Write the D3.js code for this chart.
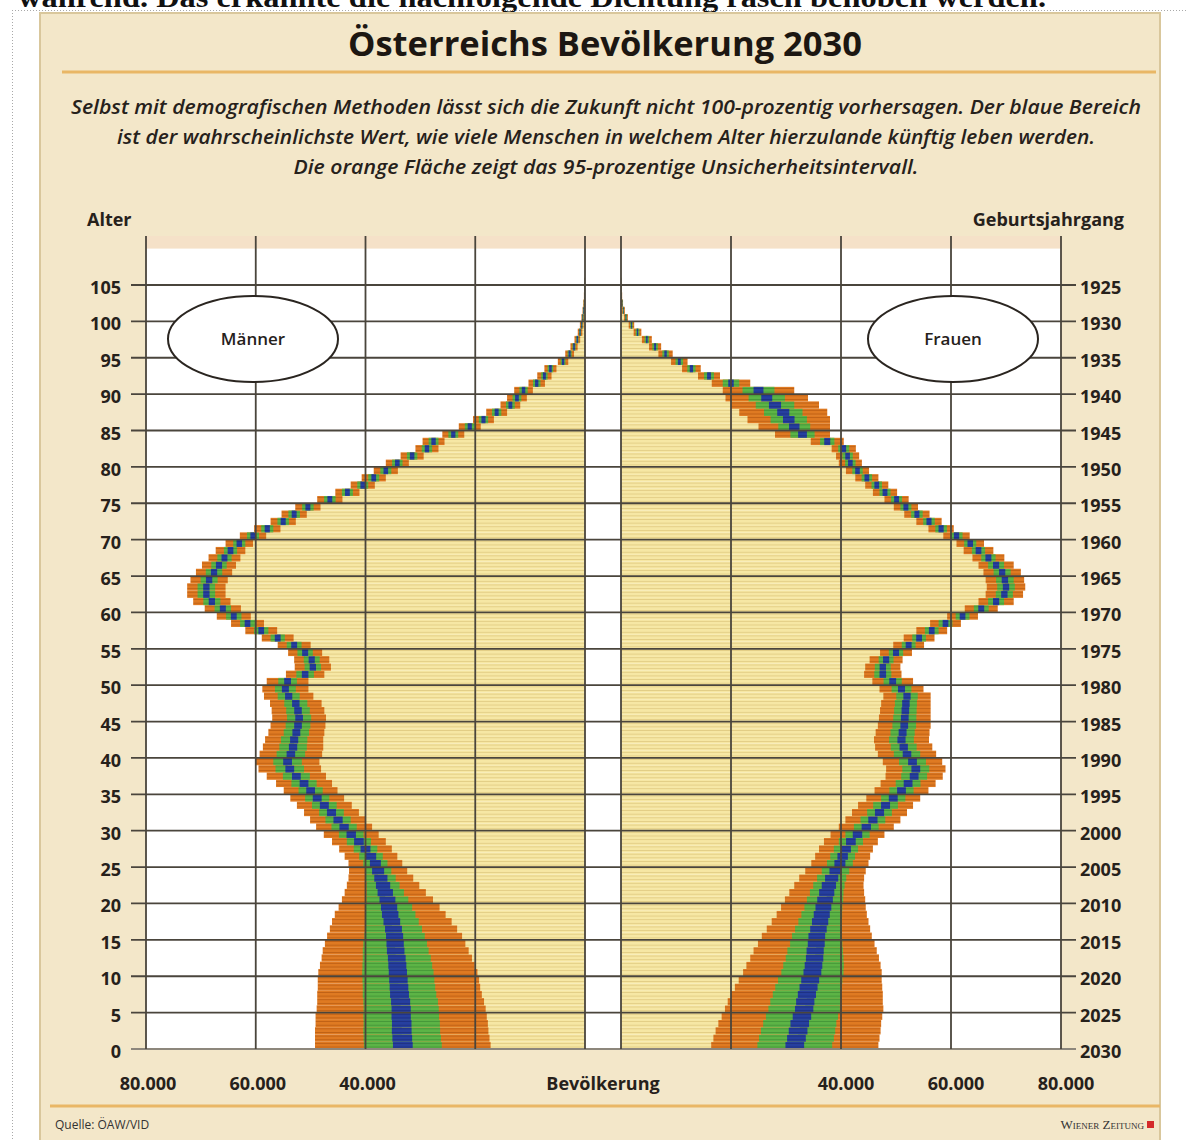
<!DOCTYPE html>
<html>
<head>
<meta charset="utf-8">
<script src="https://cdn.jsdelivr.net/npm/d3@7"></script>
<style>
  body { margin: 0; background: #fff; }
  svg { display: block; }
</style>
</head>
<body>
<div id="chart"></div>
<script>
// --- Data, index = age 0..105 ---
const ages = d3.range(0, 106);
const ageTicks = [0, 5, 10, 15, 20, 25, 30, 35, 40, 45, 50, 55, 60, 65, 70, 75, 80, 85, 90, 95, 100, 105];
const yearTicks = [2030, 2025, 2020, 2015, 2010, 2005, 2000, 1995, 1990, 1985, 1980, 1975, 1970, 1965, 1960, 1955, 1950, 1945, 1940, 1935, 1930, 1925];
const gridValues = [0, 20000, 40000, 60000, 80000];
const labelValues = [80000, 60000, 40000];

// Männer: most likely value and half widths of the bands (95 % orange, inner green, blue core)
const menMid = [
  33200,33300,33400,33400,33500,33500,33600,33800,33900,34000,
  34100,34200,34300,34500,34600,34700,34900,35200,35500,35700,
  36000,36400,36800,37200,37700,38200,39000,40000,41200,42600,
  43900,45000,46200,47500,48800,50000,51200,52600,53800,54200,
  53600,53200,53000,52600,52300,52100,52300,52700,54000,54600,
  54200,51000,49600,49800,51000,53000,56000,59000,61500,64000,
  66000,68000,69000,69000,68500,67600,66700,65700,64600,63000,
  60500,57900,55000,53000,50500,46500,43300,40500,38500,36300,
  34200,31500,28800,27600,24000,21000,18500,16100,13600,12400,
  11200,8800,7400,6300,4000,2800,2000,1400,900,600,
  400,250,150,80,40,20];
const menW95 = [
  16000,15900,15800,15700,15600,15400,15200,15000,14800,14700,
  14500,14100,13700,13300,12800,12300,11600,10900,10100,9200,
  8300,7400,6600,5900,5300,4900,4800,4800,4900,5000,
  5100,5100,5000,5000,4900,4900,5100,5400,5700,5800,
  5700,5500,5300,5100,5000,4900,4800,4700,4500,4200,
  3800,3500,3300,3200,3100,3000,2900,2900,3000,3100,
  3300,3400,3500,3500,3400,3300,3100,2900,2700,2500,
  2400,2400,2300,2300,2300,2300,2200,2200,2200,2200,
  2100,2100,2100,2000,2000,2000,1900,1900,1800,1800,
  1700,1500,1300,1100,950,800,650,520,420,330,
  260,200,160,120,90,70];
const menW60 = [
  7100,7050,7000,6950,6900,6850,6800,6700,6600,6550,
  6500,6350,6200,6000,5800,5500,5200,4900,4600,4200,
  3800,3400,3000,2700,2400,2200,2150,2150,2200,2250,
  2300,2300,2250,2250,2200,2200,2300,2450,2600,2600,
  2600,2500,2400,2300,2250,2200,2150,2100,2000,1900,
  1700,1600,1500,1450,1400,1350,1300,1300,1350,1400,
  1500,1550,1600,1600,1550,1500,1400,1300,1200,1100,
  1100,1100,1050,1050,1050,1050,1000,1000,1000,1000,
  950,950,950,900,900,900,850,850,800,800,
  750,680,580,500,430,360,290,230,190,150,
  120,90,70,55,40,30];
const menW20 = [
  1800,1800,1800,1780,1760,1750,1740,1720,1700,1680,
  1660,1640,1620,1600,1580,1560,1540,1520,1500,1480,
  1450,1400,1300,1200,1100,1000,950,900,880,860,
  850,840,830,820,810,800,800,800,800,800,
  780,760,740,720,700,700,690,680,660,640,
  620,600,580,560,550,540,530,520,520,530,
  550,570,580,580,580,570,560,540,520,500,
  480,470,460,450,450,440,440,430,430,420,
  420,410,400,400,390,380,370,360,350,340,
  320,300,270,240,210,180,150,120,100,80,
  60,50,40,30,20,15];

// Frauen
const womenMid = [
  31600,31900,32200,32500,32900,33300,33500,33800,34100,34400,
  34800,35000,35200,35300,35500,35600,35900,36200,36500,36800,
  37100,37400,37800,38300,39000,39800,40300,40900,41800,43000,
  44600,45800,47000,48100,49500,51000,52200,53300,53600,53000,
  52000,51400,51000,51200,51500,51600,51700,51800,52000,51000,
  49400,47600,47600,48200,50000,52300,54200,56500,59000,62100,
  65500,68200,69700,70000,69800,69300,68200,66800,65000,63500,
  61000,58200,56000,53800,51800,50100,48000,46500,44700,43000,
  41700,41200,40500,37500,33000,31500,30500,29500,28000,26500,
  25000,20000,16000,12800,10600,8100,6200,4700,3000,1900,
  900,450,200,100,40,15];
const womenW95 = [
  15200,15100,15000,14800,14600,14400,14100,13800,13400,13000,
  12600,12200,11700,11200,10600,10000,9400,8800,8200,7700,
  7300,6800,6300,5900,5500,5200,5000,4900,4900,4900,
  5000,5000,5000,5000,4900,4900,5000,5200,5400,5400,
  5300,5200,5000,4900,4800,4700,4600,4500,4300,4000,
  3700,3400,3200,3000,2900,2800,2800,2800,2800,2800,
  3000,3200,3400,3500,3500,3400,3200,2900,2700,2500,
  2400,2300,2300,2300,2200,2200,2200,2100,2100,2100,
  2100,2100,2200,3000,5000,6500,7500,8000,8000,7500,
  6500,3500,2000,1700,1500,1300,1100,900,700,500,
  350,250,170,110,70,40];
const womenW60 = [
  6800,6800,6750,6650,6550,6500,6350,6200,6050,5850,
  5650,5500,5250,5050,4750,4500,4250,3950,3700,3450,
  3300,3050,2850,2650,2500,2350,2250,2200,2200,2200,
  2250,2250,2250,2250,2200,2200,2250,2350,2450,2450,
  2400,2350,2250,2200,2150,2100,2050,2000,1950,1800,
  1650,1550,1450,1350,1300,1250,1250,1250,1250,1250,
  1350,1450,1550,1600,1600,1550,1450,1300,1200,1100,
  1100,1050,1050,1050,1000,1000,1000,950,950,950,
  950,950,1000,1300,2200,2900,3300,3500,3500,3300,
  2900,1500,900,750,680,580,500,400,320,230,
  160,110,80,50,30,20];
const womenW20 = [
  1700,1700,1700,1690,1680,1670,1660,1650,1640,1630,
  1620,1600,1580,1560,1540,1520,1500,1480,1460,1440,
  1420,1380,1300,1200,1100,1000,950,900,880,860,
  850,840,830,820,810,800,800,800,800,800,
  780,760,740,720,700,700,690,680,660,640,
  620,600,580,560,550,540,530,520,520,520,
  540,560,580,580,580,570,560,540,520,500,
  480,470,460,450,450,440,440,430,430,420,
  420,420,430,550,800,950,1050,1100,1100,1000,
  900,500,350,300,260,220,180,140,110,80,
  60,45,35,25,15,10];

// --- Texts ---
const title = "Österreichs Bevölkerung 2030";
const subtitle = [
  "Selbst mit demografischen Methoden lässt sich die Zukunft nicht 100-prozentig vorhersagen. Der blaue Bereich",
  "ist der wahrscheinlichste Wert, wie viele Menschen in welchem Alter hierzulande künftig leben werden.",
  "Die orange Fläche zeigt das 95-prozentige Unsicherheitsintervall."
];
const subWidths = [1070, 978, 625];
const cutText = "während. Das erkannte die nachfolgende Dichtung rasch behoben werden.";

// --- SVG root ---
const W = 1186, H = 1140;
const svg = d3.select("#chart").append("svg")
  .attr("width", W).attr("height", H);

const font = "'Open Sans', 'Noto Sans', sans-serif";
const ink = "#26211b";

// page fragment above the graphic (cut off at the top, as in the screenshot)
svg.append("text")
  .text(cutText)
  .attr("x", 18).attr("y", 7)
  .attr("textLength", 1028).attr("lengthAdjust", "spacingAndGlyphs")
  .style("font-family", "'Liberation Serif', 'DejaVu Serif', serif")
  .style("font-weight", "bold")
  .style("font-size", "30px")
  .attr("fill", "#111");

// dotted frame
svg.append("line").attr("x1", 12).attr("x2", W).attr("y1", 10.5).attr("y2", 10.5)
  .attr("stroke", "#a9a9a9").attr("stroke-dasharray", "1,2");
svg.append("line").attr("x1", 12.5).attr("x2", 12.5).attr("y1", 10).attr("y2", H)
  .attr("stroke", "#a9a9a9").attr("stroke-dasharray", "1,2");

// beige panel
svg.append("rect")
  .attr("x", 40).attr("y", 13).attr("width", 1120).attr("height", 1130)
  .attr("fill", "#f3e7c9").attr("stroke", "#d9c79c").attr("stroke-width", 2);

// title + rule
svg.append("text")
  .text(title)
  .attr("x", 605).attr("y", 56)
  .attr("text-anchor", "middle")
  .attr("textLength", 514).attr("lengthAdjust", "spacingAndGlyphs")
  .style("font-family", font).style("font-weight", "bold").style("font-size", "34px")
  .attr("fill", "#1c1712");
svg.append("line").attr("x1", 62).attr("x2", 1156).attr("y1", 72).attr("y2", 72)
  .attr("stroke", "#e9b766").attr("stroke-width", 3);

// subtitle
svg.selectAll("text.sub")
  .data(subtitle)
  .join("text")
  .attr("class", "sub")
  .text(d => d)
  .attr("x", 606)
  .attr("y", (d, i) => 114 + i * 30)
  .attr("text-anchor", "middle")
  .attr("textLength", (d, i) => subWidths[i])
  .attr("lengthAdjust", "spacingAndGlyphs")
  .style("font-family", font).style("font-style", "italic").style("font-weight", 600)
  .style("font-size", "19px")
  .attr("fill", ink);

// --- Scales ---
const y = d3.scaleLinear().domain([0, 110]).range([1049, 248.6]);
const xL = d3.scaleLinear().domain([0, 80000]).range([585, 146]);
const xR = d3.scaleLinear().domain([0, 80000]).range([621, 1061]);
const barH = y(0) - y(1);

// plot background
svg.append("rect").attr("x", 146).attr("y", 236).attr("width", 915).attr("height", 13)
  .attr("fill", "#f5e1c8");
svg.append("rect").attr("x", 146).attr("y", y(110)).attr("width", 915).attr("height", y(0) - y(110))
  .attr("fill", "#ffffff");

// --- striped fills (two stripes per one-year bar) ---
const defs = svg.append("defs");
const stripeH = barH / 2;
const fills = {
  yellow: ["#f6e7a4", "#dcc57c"],
  orange: ["#df7a22", "#b65a12"],
  green:  ["#5cb446", "#3f8e33"],
  blue:   ["#263f9f", "#1b2c7a"]
};
Object.entries(fills).forEach(([name, c]) => {
  const p = defs.append("pattern")
    .attr("id", "p-" + name)
    .attr("patternUnits", "userSpaceOnUse")
    .attr("x", 0).attr("y", y(0) % stripeH)
    .attr("width", 20).attr("height", stripeH);
  p.append("rect").attr("width", 20).attr("height", stripeH).attr("fill", c[0]);
  p.append("rect").attr("width", 20).attr("height", 0.9).attr("fill", c[1]).attr("opacity", 0.8);
});

// --- Bars ---
const sides = [
  { x: xL, mid: menMid, w95: menW95, w60: menW60, w20: menW20 },
  { x: xR, mid: womenMid, w95: womenW95, w60: womenW60, w20: womenW20 }
];

const span = (x, v0, v1) => {
  const a = x(Math.max(0, v0)), b = x(Math.max(0, v1));
  return [Math.min(a, b), Math.abs(a - b)];
};

sides.forEach(s => {
  const g = svg.append("g");
  const rows = g.selectAll("g")
    .data(ages)
    .join("g")
    .attr("transform", a => `translate(0, ${y(a + 1)})`);

  const layers = [
    ["yellow", a => [0, s.mid[a]]],
    ["orange", a => [s.mid[a] - s.w95[a], s.mid[a] + s.w95[a]]],
    ["green",  a => [s.mid[a] - s.w60[a], s.mid[a] + s.w60[a]]],
    ["blue",   a => [s.mid[a] - s.w20[a], s.mid[a] + s.w20[a]]]
  ];
  layers.forEach(([name, ext]) => {
    rows.append("rect")
      .attr("x", a => span(s.x, ...ext(a))[0])
      .attr("width", a => span(s.x, ...ext(a))[1])
      .attr("y", 0)
      .attr("height", barH)
      .attr("fill", `url(#p-${name})`);
  });
});

// --- Grid on top of bars ---
const gridColor = "#4a453c";
svg.append("g").selectAll("line")
  .data(ageTicks)
  .join("line")
  .attr("x1", 131).attr("x2", 1076)
  .attr("y1", d => y(d)).attr("y2", d => y(d))
  .attr("stroke", d => d === 0 ? "#8d877c" : gridColor)
  .attr("stroke-width", 1.8);

[xL, xR].forEach(x => {
  svg.append("g").selectAll("line")
    .data(gridValues)
    .join("line")
    .attr("x1", d => x(d)).attr("x2", d => x(d))
    .attr("y1", 236).attr("y2", y(0))
    .attr("stroke", gridColor)
    .attr("stroke-width", 1.8);
});

// --- Ovals ---
const ovals = [
  { label: "Männer", cx: 253, cy: 339 },
  { label: "Frauen", cx: 953, cy: 339 }
];
const ov = svg.append("g").selectAll("g").data(ovals).join("g");
ov.append("ellipse")
  .attr("cx", d => d.cx).attr("cy", d => d.cy)
  .attr("rx", 85).attr("ry", 43)
  .attr("fill", "#fff").attr("stroke", "#2a2520").attr("stroke-width", 2);
ov.append("text")
  .text(d => d.label)
  .attr("x", d => d.cx).attr("y", d => d.cy + 6)
  .attr("text-anchor", "middle")
  .style("font-family", font).style("font-weight", 600).style("font-size", "17px")
  .attr("fill", ink);

// --- Axis labels ---
const labelStyle = sel => sel
  .style("font-family", font).style("font-weight", "bold").style("font-size", "18px")
  .attr("fill", ink);

svg.append("g").selectAll("text")
  .data(ageTicks)
  .join("text")
  .text(d => d)
  .attr("x", 121).attr("y", d => y(d) + 9)
  .attr("text-anchor", "end")
  .call(labelStyle);

svg.append("g").selectAll("text")
  .data(yearTicks)
  .join("text")
  .text(d => d)
  .attr("x", 1080).attr("y", (d, i) => y(ageTicks[i]) + 9)
  .call(labelStyle);

const fmt = d => d3.format(",")(d).replace(/,/g, ".");
[xL, xR].forEach((x, i) => {
  svg.append("g").selectAll("text")
    .data(labelValues)
    .join("text")
    .text(fmt)
    .attr("x", d => x(d) + (i ? 5 : 2)).attr("y", 1090)
    .attr("text-anchor", "middle")
    .call(labelStyle);
});

svg.append("text").text("Bevölkerung")
  .attr("x", 603).attr("y", 1090).attr("text-anchor", "middle").call(labelStyle);
svg.append("text").text("Alter")
  .attr("x", 87).attr("y", 226).call(labelStyle);
svg.append("text").text("Geburtsjahrgang")
  .attr("x", 1124).attr("y", 226).attr("text-anchor", "end").call(labelStyle);

// --- Footer ---
svg.append("line").attr("x1", 50).attr("x2", 1160).attr("y1", 1106).attr("y2", 1106)
  .attr("stroke", "#e9b766").attr("stroke-width", 3);
svg.append("text").text("Quelle: ÖAW/VID")
  .attr("x", 55).attr("y", 1129)
  .style("font-family", font).style("font-size", "12px").attr("fill", "#333");
svg.append("text").text("Wiener Zeitung")
  .attr("x", 1144).attr("y", 1129).attr("text-anchor", "end")
  .style("font-family", "'Liberation Serif', serif").style("font-variant", "small-caps")
  .style("font-size", "13px").attr("fill", "#333");
svg.append("rect").attr("x", 1147).attr("y", 1121).attr("width", 7).attr("height", 7)
  .attr("fill", "#d42a2a");
</script>
</body>
</html>
